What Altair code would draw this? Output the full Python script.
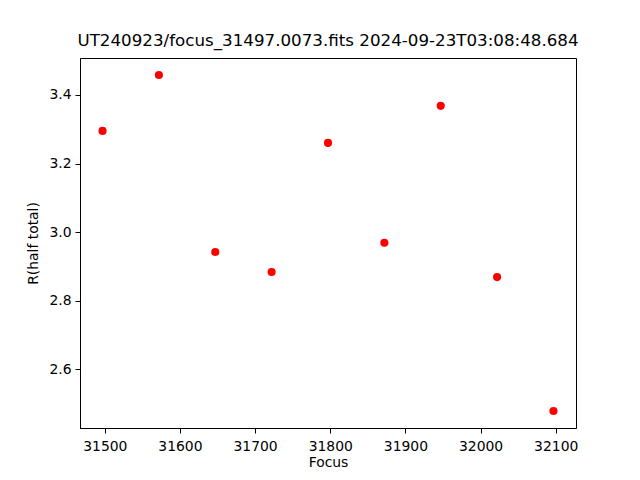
import altair as alt
import pandas as pd

focus = [31497, 31572, 31647, 31722, 31797, 31872, 31947, 32022, 32097]
r_half = [3.295, 3.458, 2.942, 2.884, 3.260, 2.969, 3.368, 2.869, 2.479]
x_ticks = [31500, 31600, 31700, 31800, 31900, 32000, 32100]
y_ticks = [2.6, 2.8, 3.0, 3.2, 3.4]
title = "UT240923/focus_31497.0073.fits 2024-09-23T03:08:48.684"

df = pd.DataFrame({"Focus": focus, "R": r_half})

font = "DejaVu Sans"

chart = alt.Chart(df).mark_point(filled=True, color="#ff0000", opacity=1, size=66).encode(
    x=alt.X("Focus:Q",
            scale=alt.Scale(domain=[31467, 32127], nice=False, zero=False),
            axis=alt.Axis(values=x_ticks, format="d", title="Focus", grid=False,
                          domainColor="black", tickColor="black", tickSize=5,
                          labelPadding=6, labelColor="black", labelFontSize=13.9,
                          labelFont=font, titleFont=font, titleFontSize=13.9,
                          titleFontWeight="normal", titleColor="black", titlePadding=3)),
    y=alt.Y("R:Q",
            scale=alt.Scale(domain=[2.4294, 3.5074], nice=False, zero=False),
            axis=alt.Axis(values=y_ticks, format=".1f", title="R(half total)", grid=False,
                          domainColor="black", tickColor="black", tickSize=5,
                          labelPadding=4, labelColor="black", labelFontSize=13.9,
                          labelFont=font, titleFont=font, titleFontSize=13.9,
                          titleFontWeight="normal", titleColor="black", titlePadding=8)),
).properties(
    width=496,
    height=370,
    title=alt.TitleParams(title, font=font, fontSize=16.7, fontWeight="normal",
                          color="black", anchor="middle", offset=8),
    autosize=alt.AutoSizeParams(type="none"),
    padding={"left": 72, "top": 50, "right": 56, "bottom": 45},
).configure_view(stroke="black", strokeWidth=1)

chart.save("out.html", embed_options={"renderer": "svg", "actions": False})
